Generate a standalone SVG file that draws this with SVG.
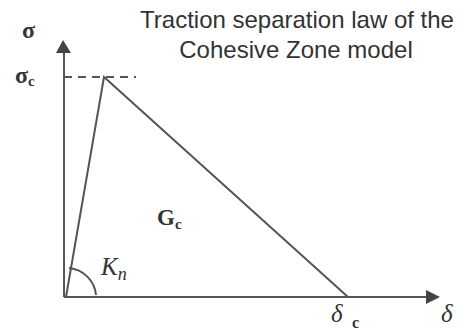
<svg xmlns="http://www.w3.org/2000/svg" width="472" height="330" viewBox="0 0 472 330">
<defs>
<style>
.ln{stroke:#555;stroke-width:2;fill:none}
.ser{font-family:"Liberation Serif","DejaVu Serif",serif;fill:#333}
.b{font-weight:bold}
.title{font-family:"Liberation Sans",Arial,sans-serif;font-size:24px;fill:#333;text-anchor:middle}
</style>
</defs>
<rect width="472" height="330" fill="#fff"/>
<g id="title">
<text class="title" x="297" y="28">Traction separation law of the</text>
<text class="title" x="296" y="58">Cohesive Zone model</text>
</g>
<g id="connectors">
<path class="ln" d="M64,297 L64,52"/>
<path d="M56,53 L63,40 L71,53 z" fill="#444"/>
<path class="ln" d="M64,297 L427,297"/>
<path d="M426,290 L440,297 L426,304 z" fill="#444"/>
<path class="ln" d="M64,77 L136,77" stroke-dasharray="8,6"/>
<path class="ln" d="M66,297 L104,77 L348,297"/>
<path class="ln" d="M96,295 A30,30 0 0 0 69,268"/>
</g>
<g id="labels">
<text class="ser b" x="22" y="38" font-size="24">σ</text>
<text class="ser b" x="15" y="83" font-size="24">σ<tspan font-size="15" dy="3">c</tspan></text>
<text class="ser b" x="157" y="225" font-size="23">G<tspan font-size="15" dy="4">c</tspan></text>
<text class="ser" x="101" y="275" font-size="25" font-style="italic">K<tspan font-size="18" dy="5">n</tspan></text>
<text class="ser" x="331" y="322" font-size="25" font-style="italic">δ</text>
<text class="ser b" x="352" y="328" font-size="16">c</text>
<text class="ser" x="441" y="322" font-size="25" font-style="italic">δ</text>
</g>
</svg>
